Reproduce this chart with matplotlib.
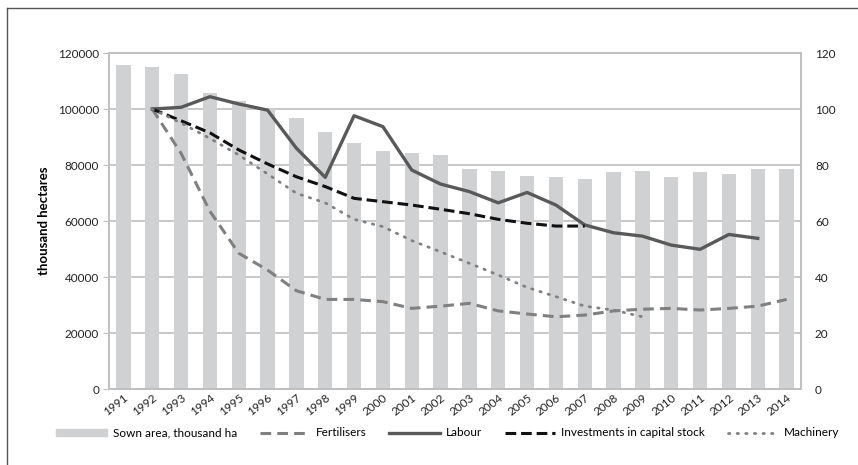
import numpy as np
import matplotlib
matplotlib.use('Agg')
import matplotlib.pyplot as plt
from matplotlib.lines import Line2D

plt.rcParams['font.family'] = ['Lato', 'DejaVu Sans']

years = [str(y) for y in range(1991, 2015)]

# sown area, thousand ha (left axis)
sown_area = [115700, 115000, 112500, 105600, 103000, 100000, 96800, 91800, 88000, 84900,
             84300, 83600, 78600, 78000, 76000, 75600, 74900, 77400, 78000, 75600,
             77400, 76800, 78600, 78600]

# indices, 1992 = 100 (right axis); None = no data
fertilisers = [None, 100, 84.2, 63.5, 48.5, 42.5, 35.1, 32.0, 32.0, 31.2,
               28.8, 29.6, 30.6, 27.9, 26.8, 25.8, 26.4, 27.9, 28.5, 28.8,
               28.2, 28.8, 29.6, 32.0]
labour = [None, 100, 100.6, 104.4, 101.8, 99.6, 86.0, 75.6, 97.6, 93.7,
          78.2, 73.2, 70.5, 66.5, 70.2, 65.7, 58.6, 55.8, 54.6, 51.4,
          49.9, 55.2, 53.8, None]
investments = [None, 100, 95.8, 91.5, 85.4, 80.4, 75.8, 72.3, 68.1, 66.9,
               65.7, 64.2, 62.6, 60.6, 59.2, 58.2, 58.2, None, None, None,
               None, None, None, None]
machinery = [None, 100, 95.0, 89.5, 83.6, 76.8, 69.9, 66.5, 60.6, 58.0,
             53.0, 49.0, 44.9, 40.7, 36.3, 33.0, 29.6, 28.2, 25.8, None,
             None, None, None, None]


def as_array(values):
    return np.array([np.nan if v is None else v for v in values], dtype=float)


fig = plt.figure(figsize=(8.58, 4.65), dpi=100)
ax = fig.add_axes([0.127, 0.1634, 0.8066, 0.7226])
ax2 = ax.twinx()

grid_col = '#bfbfbf'
x = np.arange(len(years))
fs = 8.5

ax.bar(x, sown_area, width=0.5, color='#d0d1d3', zorder=2)
ax.set_ylim(0, 120000)
ax.set_yticks(range(0, 120001, 20000))
ax.yaxis.grid(True, color=grid_col, linewidth=1.2, zorder=0)
ax.set_axisbelow(True)
ax.set_xlim(-0.5, len(years) - 0.5)
ax.set_xticks(x)
ax.set_xticklabels(years, rotation=38, ha='right', rotation_mode='anchor')
ax.set_ylabel('thousand hectares', fontsize=9.5, fontweight='bold', labelpad=6)

fert_style = (0, (3.5, 2))
inv_style = (0, (3.5, 1.6))
mach_style = (0, (0.5, 2.6))

ax2.plot(x, as_array(fertilisers), color='#808080', linestyle=fert_style, linewidth=2.2)
ax2.plot(x, as_array(labour), color='#595959', linestyle='-', linewidth=2.4)
ax2.plot(x, as_array(investments), color='#111111', linestyle=inv_style, linewidth=2.2)
ax2.plot(x, as_array(machinery), color='#808080', linestyle=mach_style, linewidth=2.0,
         dash_capstyle='round')
ax2.set_ylim(0, 120)
ax2.set_yticks(range(0, 121, 20))

for a in (ax, ax2):
    for s in a.spines.values():
        s.set_color(grid_col)
        s.set_linewidth(1.2)
    a.tick_params(labelsize=fs, colors='#222222')
ax.tick_params(axis='y', length=4, color=grid_col, pad=3)
ax.tick_params(axis='x', length=0, pad=2)
ax2.tick_params(axis='y', length=0, pad=10)

handles = [
    plt.Rectangle((0, 0), 1, 1, color='#d0d1d3'),
    Line2D([], [], color='#808080', linestyle=fert_style, linewidth=2.2),
    Line2D([], [], color='#595959', linewidth=2.4),
    Line2D([], [], color='#111111', linestyle=inv_style, linewidth=2.2),
    Line2D([], [], color='#808080', linestyle=mach_style, linewidth=2.0, dash_capstyle='round'),
]
labels = ['Sown area, thousand ha', 'Fertilisers', 'Labour', 'Investments in capital stock', 'Machinery']
fig.legend(handles, labels, loc='center', bbox_to_anchor=(0.522, 0.069), ncol=5, frameon=False,
           fontsize=fs, handlelength=4.3, handleheight=0.5, columnspacing=1.9, handletextpad=0.5)

# outer frame (cropped: only top and left edges visible)
fig.add_artist(Line2D([7 / 858, 1.0], [1 - 8 / 465, 1 - 8 / 465], transform=fig.transFigure,
                      color='#555555', linewidth=1.0))
fig.add_artist(Line2D([7 / 858, 7 / 858], [1 - 8 / 465, 0.0], transform=fig.transFigure,
                      color='#555555', linewidth=1.0))

fig.savefig('out.png', dpi=100)
